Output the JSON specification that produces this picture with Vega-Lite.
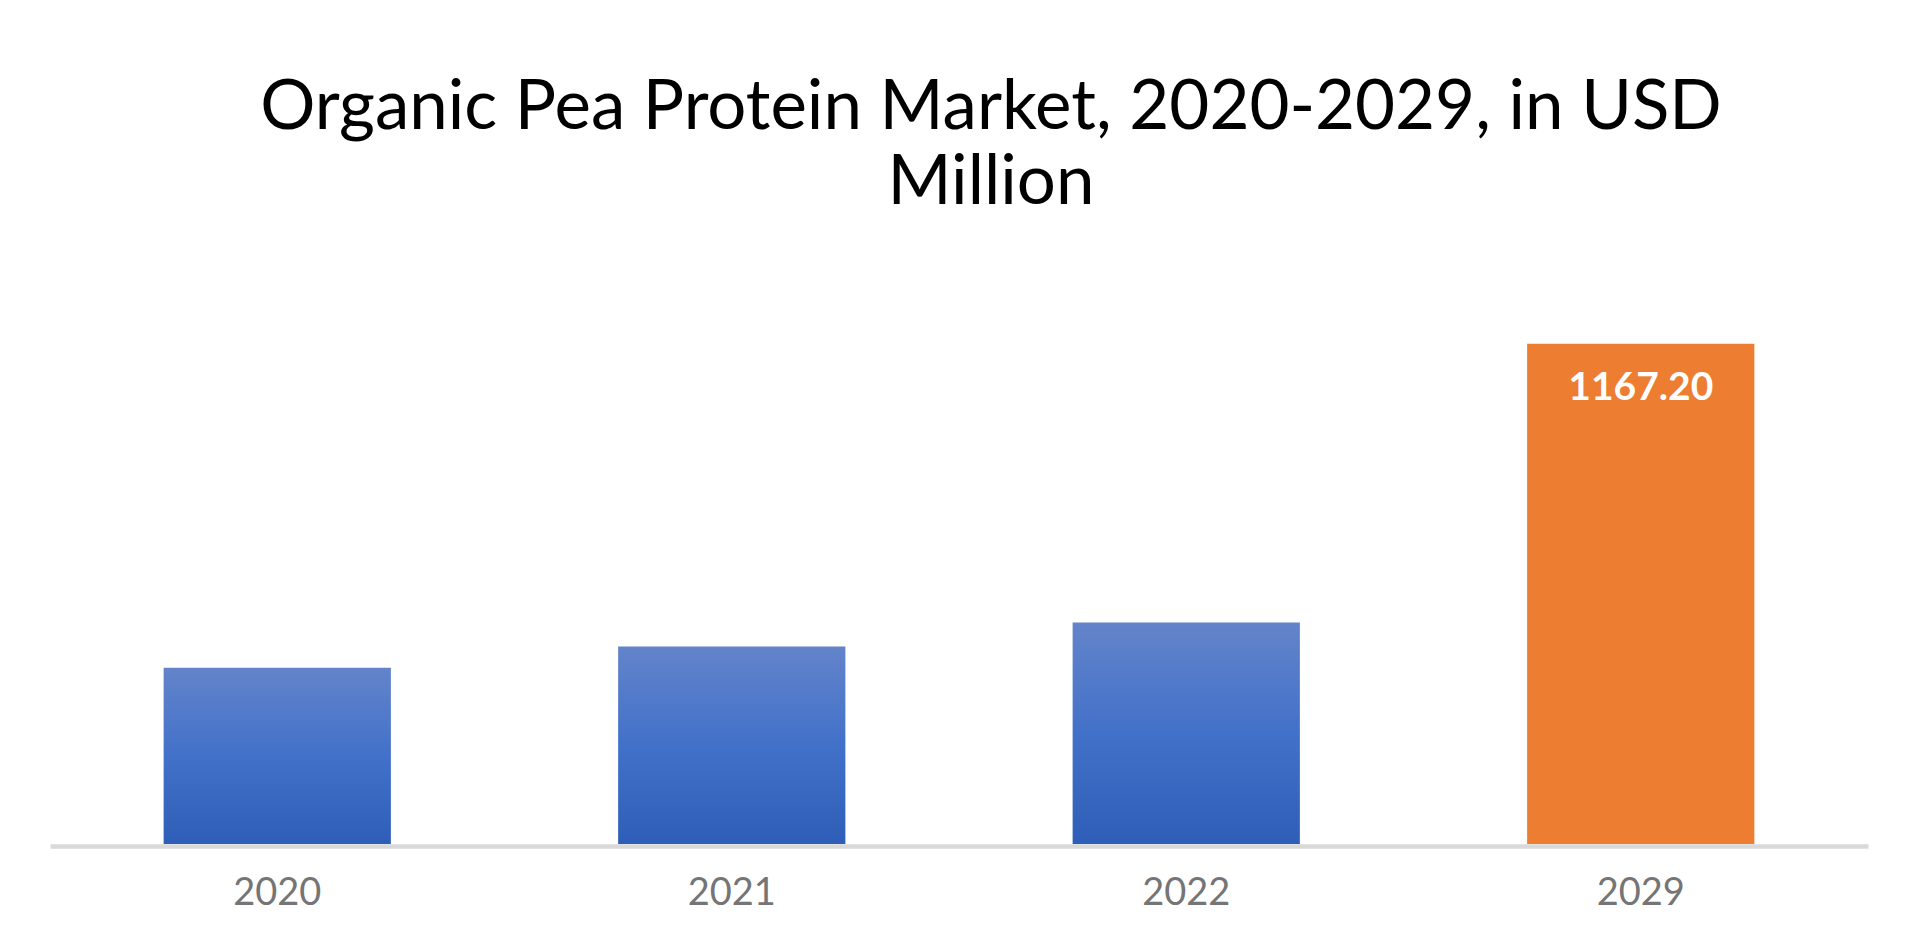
{
  "$schema": "https://vega.github.io/schema/vega-lite/v6.json",
  "autosize": {"type": "none"},
  "padding": {"left": 50, "top": 244, "right": 52, "bottom": 99},
  "width": 1818,
  "height": 600,
  "background": "white",
  "title": {
    "text": ["Organic Pea Protein Market, 2020-2029, in USD", "Million"],
    "font": "Lato",
    "fontSize": 69,
    "fontWeight": "normal",
    "color": "#000000",
    "lineHeight": 75,
    "anchor": "middle",
    "dx": 32,
    "offset": 26
  },
  "data": {
    "values": [
      {"year": "2020", "value": 411, "kind": "history"},
      {"year": "2021", "value": 461, "kind": "history"},
      {"year": "2022", "value": 517, "kind": "history"},
      {"year": "2029", "value": 1167.2, "kind": "forecast"}
    ]
  },
  "encoding": {
    "x": {
      "field": "year",
      "type": "nominal",
      "scale": {"paddingInner": 0.5, "paddingOuter": 0.25},
      "axis": {
        "title": null,
        "labelAngle": 0,
        "labelFont": "Lato",
        "labelFontSize": 38,
        "labelColor": "#757575",
        "labelPadding": 28,
        "ticks": false,
        "domainColor": "#d9d9d9",
        "domainWidth": 4.5,
        "offset": 2
      }
    },
    "y": {
      "field": "value",
      "type": "quantitative",
      "scale": {"domain": [0, 1400]},
      "axis": null
    }
  },
  "layer": [
    {
      "transform": [{"filter": "datum.kind === 'history'"}],
      "mark": {
        "type": "bar",
        "color": {
          "gradient": "linear",
          "x1": 0, "y1": 0, "x2": 0, "y2": 1,
          "stops": [
            {"offset": 0, "color": "#6384ca"},
            {"offset": 0.5, "color": "#4271c9"},
            {"offset": 1, "color": "#2f5eb8"}
          ]
        }
      }
    },
    {
      "transform": [{"filter": "datum.kind === 'forecast'"}],
      "mark": {"type": "bar", "color": "#ed7d31"}
    },
    {
      "transform": [{"filter": "datum.kind === 'forecast'"}],
      "mark": {
        "type": "text",
        "font": "Lato",
        "fontSize": 39,
        "fontWeight": "bold",
        "color": "white",
        "baseline": "alphabetic",
        "dy": 56
      },
      "encoding": {
        "text": {"field": "value", "type": "quantitative", "format": ".2f"}
      }
    }
  ],
  "config": {
    "view": {"stroke": null}
  }
}
